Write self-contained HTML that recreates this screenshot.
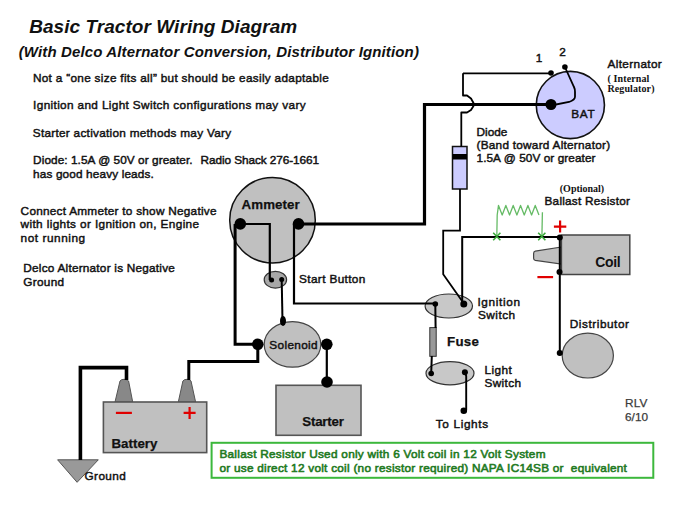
<!DOCTYPE html>
<html><head><meta charset="utf-8">
<style>
html,body{margin:0;padding:0;background:#fff;width:688px;height:516px;overflow:hidden}
svg{display:block}
text{font-family:"Liberation Sans",sans-serif;fill:#111}
.r{font-size:11.8px;stroke:#111;stroke-width:0.45px}
.b{font-size:13.3px;font-weight:bold;stroke:#111;stroke-width:0.25px}
.s{font-family:"Liberation Serif",serif;font-weight:bold;font-size:10px}
.g{font-size:11.8px;fill:#1f7a1f;stroke:#1f7a1f;stroke-width:0.6px}
</style></head><body>
<svg width="688" height="516" viewBox="0 0 688 516">
<rect width="688" height="516" fill="#fff"/>
<!-- ===== components ===== -->
<ellipse cx="570.35" cy="105" rx="34.1" ry="33.6" fill="#ccccff" stroke="#111" stroke-width="1.6"/>
<rect x="452.5" y="146.5" width="14.5" height="42.5" fill="#ccccff" stroke="#111" stroke-width="1.5"/>
<rect x="452.5" y="154" width="14.5" height="5.5" fill="#000"/>
<path d="M561.4,247 L535.3,251.2 Q533.6,251.6 533.6,253.4 L533.6,258.2 Q533.6,260 535.3,260.3 L561.4,264 Z" fill="#c0c0c0" stroke="#444" stroke-width="1.2"/>
<rect x="561.4" y="235" width="68.4" height="39.5" fill="#c0c0c0" stroke="#444" stroke-width="1.5"/>
<ellipse cx="587.8" cy="355.6" rx="25.6" ry="22.4" fill="#c0c0c0" stroke="#444" stroke-width="1.2"/>
<circle cx="272.5" cy="220.2" r="42.8" fill="#c0c0c0" stroke="#111" stroke-width="1.5"/>
<ellipse cx="275.4" cy="279.7" rx="11.2" ry="8.4" fill="#a8a8a8" stroke="#333" stroke-width="1.2"/>
<ellipse cx="292.5" cy="344.4" rx="28.3" ry="22.8" fill="#c0c0c0" stroke="#444" stroke-width="1.2"/>
<rect x="276" y="385.3" width="85" height="50" fill="#c0c0c0" stroke="#555" stroke-width="1.6"/>
<path d="M115,402 L120,381 Q121,379.3 124,379.3 Q127.6,379.3 128.6,381 L132.7,402 Z" fill="#888" stroke="#555" stroke-width="1"/>
<path d="M178.3,402 L182.9,381 Q184,379.3 187,379.3 Q190,379.3 191,381 L195.6,402 Z" fill="#888" stroke="#555" stroke-width="1"/>
<rect x="103.4" y="402" width="103.3" height="50.6" fill="#c0c0c0" stroke="#555" stroke-width="1.6"/>
<path d="M57.6,459.8 L98.3,459.8 L77.1,482.3 Z" fill="#999" stroke="#555" stroke-width="1"/>
<ellipse cx="448.8" cy="306" rx="23.7" ry="12" fill="#c8c8c8" stroke="#333" stroke-width="1.2"/>
<rect x="429.8" y="327.6" width="6.4" height="28.7" fill="#999" stroke="#333" stroke-width="1"/>
<ellipse cx="450" cy="373.2" rx="24" ry="11.6" fill="#c8c8c8" stroke="#333" stroke-width="1.2"/>
<rect x="211.6" y="442.8" width="441.7" height="35" fill="none" stroke="#3cb83c" stroke-width="2"/>
<!-- red signs -->
<path d="M553.9,226.6 L566.3,226.6 M560.1,220.5 L560.1,232.5" stroke="#e00000" stroke-width="2.2"/>
<path d="M537.4,277.1 L553.1,277.1" stroke="#e00000" stroke-width="2.2"/>
<path d="M115.9,412.9 L131.9,412.9" stroke="#e00000" stroke-width="2.2"/>
<path d="M183.6,412.9 L195.6,412.9 M189.6,406.9 L189.6,418.9" stroke="#e00000" stroke-width="2.2"/>
<!-- ===== wires ===== -->
<g fill="none" stroke="#000">
<path d="M298.5,224 L424.5,224 L424.5,104.5 L551,104.5" stroke-width="3.2"/>
<path d="M463,73.3 L551,73.3" stroke-width="1.8"/>
<path d="M463,73.3 L463,95.5 L467,95.5 L471,98.5 L473.5,103 L473.5,106 L471,110 L467,112.5 L461.3,112.5 L461.3,146.5" stroke-width="1.8" stroke-linejoin="round"/>
<path d="M564.9,67 L574,87 Q575,89 575,92 L575,96.8 Q575,100 569,102 L551,105.5" stroke-width="1.8"/>
<path d="M460,189 L460,230.7 L443.2,230.7 L443.2,274.3 L464,303.75" stroke-width="1.8"/>
<path d="M462.2,303.75 L462.2,237 L559.8,237" stroke-width="2"/>
<path d="M559.8,237 L559.8,353" stroke-width="2"/>
<path d="M240.3,224 L269.8,224 L269.8,280" stroke-width="2.2"/>
<path d="M235.1,224 L235.1,344.3 L257.8,344.3" stroke-width="3"/>
<path d="M294,224 L294,303.5 L435,303.5" stroke-width="2.2"/>
<path d="M281.7,280 L282.5,321" stroke-width="2"/>
<path d="M257.8,344.3 L257.8,361.4 L188.8,361.4 L188.8,380" stroke-width="3"/>
<path d="M326.8,344.3 L326.8,382" stroke-width="2.2"/>
<path d="M126.5,380 L126.5,367.6 L80.4,367.6 L80.4,460" stroke-width="3.6"/>
<path d="M435.3,304 L435.6,328 M431.8,356 L431.2,373.2" stroke-width="2"/>
<path d="M464.9,372.2 L466.2,376 L466.2,410" stroke-width="1.9"/>
</g>
<!-- ballast resistor (green) -->
<path d="M496.8,236.5 L497.2,215 L498.50,205.4 L502.20,215 L505.85,205.4 L509.55,215 L513.20,205.4 L516.90,215 L520.55,205.4 L524.25,215 L527.90,205.4 L531.60,215 L535.25,205.4 L538.95,215" stroke="#66bb66" stroke-width="1.3" fill="none" stroke-linejoin="round"/>
<path d="M542.4,212.2 L541.9,236.5" stroke="#66bb66" stroke-width="1.3" fill="none"/>
<path d="M493.2,232.8 L500.4,240.2 M500.4,232.8 L493.2,240.2 M538.2,232.8 L545.4,240.2 M545.4,232.8 L538.2,240.2" stroke="#3aaa3a" stroke-width="1.6" fill="none"/>
<!-- ===== dots ===== -->
<g fill="#000">
<circle cx="551" cy="73" r="2.8"/>
<circle cx="564.9" cy="67" r="2.8"/>
<circle cx="551" cy="104.5" r="5.5"/>
<circle cx="559.8" cy="237.5" r="3"/>
<circle cx="559.5" cy="272" r="3"/>
<circle cx="559.75" cy="353" r="3"/>
<circle cx="240.3" cy="223.9" r="5.8"/>
<circle cx="298.5" cy="223.9" r="5.8"/>
<circle cx="271.6" cy="280" r="2.5"/>
<circle cx="281.7" cy="279.5" r="2.5"/>
<ellipse cx="283" cy="321" rx="3" ry="5"/>
<circle cx="257.8" cy="344.3" r="5.8"/>
<circle cx="326.8" cy="344.3" r="5.8"/>
<circle cx="327" cy="382" r="5.8"/>
<circle cx="435.3" cy="304" r="2.8"/>
<circle cx="463.8" cy="304" r="3.5"/>
<circle cx="431.2" cy="373.5" r="2.8"/>
<circle cx="464.9" cy="372.2" r="3"/>
<circle cx="463.8" cy="410.8" r="3.3"/>
</g>

<text x="29.20" y="33.30" textLength="268.00" lengthAdjust="spacing" style="font-size:19px;font-weight:bold;font-style:italic" xml:space="preserve">Basic Tractor Wiring Diagram</text>
<text x="18.70" y="57.10" textLength="400.20" lengthAdjust="spacing" style="font-size:15px;font-weight:bold;font-style:italic" xml:space="preserve">(With Delco Alternator Conversion, Distributor Ignition)</text>
<text x="32.90" y="81.90" textLength="295.90" lengthAdjust="spacing" class="r" xml:space="preserve">Not a “one size fits all” but should be easily adaptable</text>
<text x="33.10" y="109.20" textLength="272.50" lengthAdjust="spacing" class="r" xml:space="preserve">Ignition and Light Switch configurations may vary</text>
<text x="32.80" y="136.60" textLength="198.30" lengthAdjust="spacing" class="r" xml:space="preserve">Starter activation methods may Vary</text>
<text x="33.10" y="164.40" textLength="159.40" lengthAdjust="spacing" class="r" xml:space="preserve">Diode: 1.5A @ 50V or greater.</text>
<text x="200.60" y="164.40" textLength="118.50" lengthAdjust="spacing" class="r" xml:space="preserve">Radio Shack 276-1661</text>
<text x="33.10" y="177.90" textLength="120.70" lengthAdjust="spacing" class="r" xml:space="preserve">has good heavy leads.</text>
<text x="20.60" y="214.70" textLength="195.90" lengthAdjust="spacing" class="r" xml:space="preserve">Connect Ammeter to show Negative</text>
<text x="20.60" y="228.20" textLength="178.50" lengthAdjust="spacing" class="r" xml:space="preserve">with lights or Ignition on, Engine</text>
<text x="20.60" y="241.80" textLength="64.50" lengthAdjust="spacing" class="r" xml:space="preserve">not running</text>
<text x="23.30" y="272.30" textLength="151.60" lengthAdjust="spacing" class="r" xml:space="preserve">Delco Alternator is Negative</text>
<text x="23.30" y="285.70" textLength="40.80" lengthAdjust="spacing" class="r" xml:space="preserve">Ground</text>
<text x="241.60" y="209.30" textLength="58.00" lengthAdjust="spacing" class="b" xml:space="preserve">Ammeter</text>
<text x="299.10" y="282.60" textLength="66.20" lengthAdjust="spacing" class="r" xml:space="preserve">Start Button</text>
<text x="269.30" y="348.70" textLength="48.30" lengthAdjust="spacing" class="r" xml:space="preserve">Solenoid</text>
<text x="111.40" y="448.10" textLength="46.10" lengthAdjust="spacing" class="b" xml:space="preserve">Battery</text>
<text x="302.30" y="425.90" textLength="41.60" lengthAdjust="spacing" class="b" xml:space="preserve">Starter</text>
<text x="84.50" y="480.40" textLength="41.30" lengthAdjust="spacing" class="r" xml:space="preserve">Ground</text>
<text x="219.40" y="457.70" textLength="326.10" lengthAdjust="spacing" class="g" xml:space="preserve">Ballast Resistor Used only with 6 Volt coil in 12 Volt System</text>
<text x="219.40" y="471.50" textLength="407.50" lengthAdjust="spacing" class="g" xml:space="preserve">or use direct 12 volt coil (no resistor required) NAPA IC14SB or  equivalent</text>
<text x="624.90" y="406.90" textLength="22.50" lengthAdjust="spacing" class="r" style="fill:#3a3a3a;stroke:#3a3a3a;stroke-width:0.25px" xml:space="preserve">RLV</text>
<text x="624.90" y="420.90" textLength="23.20" lengthAdjust="spacing" class="r" style="fill:#3a3a3a;stroke:#3a3a3a;stroke-width:0.25px" xml:space="preserve">6/10</text>
<text x="435.80" y="428.20" textLength="52.30" lengthAdjust="spacing" class="r" xml:space="preserve">To Lights</text>
<text x="484.40" y="373.60" textLength="27.40" lengthAdjust="spacing" class="r" xml:space="preserve">Light</text>
<text x="484.40" y="386.80" textLength="36.70" lengthAdjust="spacing" class="r" xml:space="preserve">Switch</text>
<text x="447.10" y="346.20" textLength="31.70" lengthAdjust="spacing" class="b" xml:space="preserve">Fuse</text>
<text x="477.40" y="306.40" textLength="42.70" lengthAdjust="spacing" class="r" xml:space="preserve">Ignition</text>
<text x="478.00" y="319.40" textLength="37.10" lengthAdjust="spacing" class="r" xml:space="preserve">Switch</text>
<text x="569.70" y="328.30" textLength="59.30" lengthAdjust="spacing" class="r" xml:space="preserve">Distributor</text>
<text x="595.20" y="267.20" textLength="25.40" lengthAdjust="spacing" style="font-size:14px;font-weight:bold" xml:space="preserve">Coil</text>
<text x="559.80" y="192.00" textLength="44.30" lengthAdjust="spacing" class="s" xml:space="preserve">(Optional)</text>
<text x="544.50" y="204.90" textLength="85.40" lengthAdjust="spacing" class="r" xml:space="preserve">Ballast Resistor</text>
<text x="476.50" y="135.80" class="r" xml:space="preserve">Diode</text>
<text x="476.50" y="149.30" textLength="133.60" lengthAdjust="spacing" class="r" xml:space="preserve">(Band toward Alternator)</text>
<text x="476.50" y="162.40" textLength="119.00" lengthAdjust="spacing" class="r" xml:space="preserve">1.5A @ 50V or greater</text>
<text x="535.80" y="61.90" class="r" xml:space="preserve">1</text>
<text x="559.30" y="56.40" class="r" xml:space="preserve">2</text>
<text x="607.50" y="67.60" textLength="54.30" lengthAdjust="spacing" class="r" xml:space="preserve">Alternator</text>
<text x="607.50" y="81.60" textLength="41.80" lengthAdjust="spacing" class="s" xml:space="preserve">( Internal</text>
<text x="607.50" y="92.40" textLength="47.00" lengthAdjust="spacing" class="s" xml:space="preserve">Regulator)</text>
<text x="571.30" y="118.40" textLength="23.40" lengthAdjust="spacing" class="r" xml:space="preserve">BAT</text>
</svg>
</body></html>
